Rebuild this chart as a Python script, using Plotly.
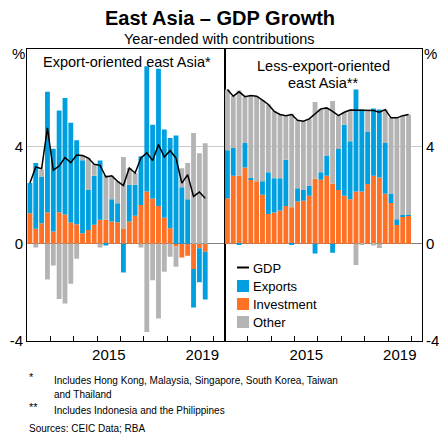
import plotly.graph_objects as go

# ---------------- data ----------------
quarters_left = ["2012Q1", "2012Q2", "2012Q3", "2012Q4", "2013Q1", "2013Q2", "2013Q3", "2013Q4",
                 "2014Q1", "2014Q2", "2014Q3", "2014Q4", "2015Q1", "2015Q2", "2015Q3", "2015Q4",
                 "2016Q1", "2016Q2", "2016Q3", "2016Q4", "2017Q1", "2017Q2", "2017Q3", "2017Q4",
                 "2018Q1", "2018Q2", "2018Q3", "2018Q4", "2019Q1", "2019Q2", "2019Q3"]
quarters_right = quarters_left + ["2019Q4"]

# Export-oriented east Asia
inv_left = [1.25, 0.61, 0.84, 1.28, 0.50, 1.29, 1.20, 0.87, 0.80, 0.43, 0.56, 0.78, 0.98, 0.98, 0.91, 0.88,
            0.60, 0.91, 1.15, 1.59, 2.14, 1.86, 1.55, 1.07, 0.63, -0.12, -0.57, -0.50, -1.04, -0.19, -0.33]
exp_left = [1.24, 2.70, 1.92, 4.96, 3.40, 4.18, 4.79, 4.10, 3.45, 3.00, 1.65, 2.01, 2.44, -0.08, 0.92, 0.78,
            -1.18, 1.51, 1.27, 2.00, 5.15, 3.03, 5.64, 3.62, 3.71, 4.45, 2.32, 1.83, -1.58, -1.40, -1.96]
oth_left = [0.00, -0.16, 0.28, -1.47, -0.90, -2.27, -2.46, -1.65, -0.62, 0.20, 1.31, 0.47, -0.16, 1.84, 0.96, 0.90,
            2.96, 0.69, 0.48, -0.16, -3.63, -1.50, -3.08, -1.15, -0.54, -0.83, 0.78, 1.48, 4.55, 3.72, 4.13]
gdp_left = [2.49, 3.15, 3.08, 4.76, 3.02, 3.19, 3.54, 3.33, 3.64, 3.62, 3.52, 3.26, 3.22, 2.74, 2.79, 2.56,
            2.39, 3.11, 2.90, 3.52, 3.73, 3.42, 4.07, 3.56, 3.82, 3.52, 2.49, 2.83, 1.94, 2.12, 1.87]

# Less-export-oriented east Asia
inv_right = [1.87, 2.79, 2.79, 3.13, 2.63, 2.56, 2.01, 1.22, 1.28, 1.36, 1.55, 1.50, 1.73, 1.76, 1.97, 2.67,
             2.63, 2.79, 2.46, 2.21, 1.97, 1.83, 2.14, 2.14, 2.45, 2.79, 2.72, 2.05, 1.67, 0.77, 1.11, 1.15]
exp_right = [1.97, 1.14, -0.05, 1.01, 0.07, 0.00, 0.55, 1.71, 1.41, 1.33, 1.90, -0.03, 0.55, 0.45, 0.41, -0.40,
             0.30, 0.83, -0.37, 1.68, 2.92, 2.38, 4.20, 3.37, 2.14, 2.76, 2.79, 2.09, 0.39, 0.23, 0.07, 0.03]
oth_right = [2.50, 2.13, 3.50, 1.90, 3.39, 3.50, 3.34, 2.79, 2.75, 2.62, 1.81, 3.84, 2.79, 2.82, 2.75, 3.15,
             2.61, 1.96, 3.40, 1.37, 0.51, 1.28, -0.88, -0.02, 0.90, -0.08, -0.18, 1.37, 3.12, 4.17, 4.08, 4.13]
gdp_right = [6.34, 6.06, 6.24, 6.04, 6.09, 6.06, 5.90, 5.72, 5.44, 5.31, 5.26, 5.31, 5.07, 5.03, 5.13, 5.35,
             5.54, 5.58, 5.44, 5.26, 5.40, 5.49, 5.49, 5.49, 5.49, 5.47, 5.40, 5.51, 5.17, 5.17, 5.26, 5.31]

year_ticks = [2013, 2014, 2015, 2016, 2017, 2018, 2019, 2020]
label_years = ["2015", "2019"]
y_ticks = [-4, 0, 4]

BLUE = "#00A0E0"
ORANGE = "#FF7125"
GREY = "#B4B4B4"
FONT = "Liberation Sans, Arial, sans-serif"

W, H = 439, 434
ML, MR, MT, MB = 27, 17, 49, 93
PW, PH = W - ML - MR, H - MT - MB


def qpos(q):
    return int(q[:4]) + (int(q[-1]) - 1) / 4 + 0.125


def px(x):
    return (x - ML) / PW


def py(y):
    return (H - MB - y) / PH


fig = go.Figure()

for quarters, inv, exp, oth, gdp, xa, ya in [
    (quarters_left, inv_left, exp_left, oth_left, gdp_left, "x", "y"),
    (quarters_right, inv_right, exp_right, oth_right, gdp_right, "x2", "y2"),
]:
    xs = [qpos(q) for q in quarters]
    for name, vals, col in [("Investment", inv, ORANGE), ("Exports", exp, BLUE), ("Other", oth, GREY)]:
        fig.add_trace(go.Bar(x=xs, y=vals, name=name, marker=dict(color=col, line=dict(width=0)),
                             xaxis=xa, yaxis=ya, showlegend=False))
    fig.add_trace(go.Scatter(x=xs, y=gdp, mode="lines", name="GDP", line=dict(color="black", width=1.5),
                             xaxis=xa, yaxis=ya, showlegend=False))

xcommon = dict(range=[2012, 2020.45], tickvals=[int(v) + 0.5 for v in label_years], ticktext=label_years,
               ticks="", showline=True, mirror=True, linecolor="black", linewidth=1, showgrid=False,
               zeroline=False, automargin=False, tickfont=dict(size=15, color="black", family=FONT),
               minor=dict(tickvals=year_ticks, ticks="inside", ticklen=5, tickcolor="black", tickwidth=1,
                          showgrid=False))
ycommon = dict(range=[-4, 8], tickvals=y_ticks, ticktext=[str(v) for v in y_ticks], ticks="",
               showline=True, mirror=True, linecolor="black", linewidth=1, showgrid=True,
               gridcolor="#C8C8C8", gridwidth=1, zeroline=True, zerolinecolor="#808080", zerolinewidth=1,
               automargin=False, tickfont=dict(size=15, color="black", family=FONT))

fig.update_layout(
    width=W, height=H, margin=dict(l=ML, r=MR, t=MT, b=MB, autoexpand=False),
    paper_bgcolor="white", plot_bgcolor="white",
    barmode="relative", bargap=0.17,
    font=dict(family=FONT, color="black"),
    xaxis=dict(domain=[0, 0.5], anchor="y", **xcommon),
    xaxis2=dict(domain=[0.5, 1], anchor="y2", **xcommon),
    yaxis=dict(anchor="x", side="left", **ycommon),
    yaxis2=dict(anchor="x2", side="right", **ycommon),
)

ann = []


def txt(x, y, s, size, xanchor="center", bold=False):
    ann.append(dict(x=px(x), y=py(y), xref="paper", yref="paper", text=("<b>%s</b>" % s) if bold else s,
                    showarrow=False, xanchor=xanchor, yanchor="middle",
                    font=dict(size=size, color="black", family=FONT)))


txt(219.5, 18, "East Asia – GDP Growth", 20, bold=True)
txt(219.5, 39, "Year-ended with contributions", 14.5)
txt(127, 62, "Export-oriented east Asia*", 14.5)
txt(323, 66, "Less-export-oriented", 14.5)
txt(323, 83, "east Asia**", 14.5)
txt(18, 54, "%", 15)
txt(431, 54, "%", 15)

# legend
leg_items = [("GDP", 268), ("Exports", 286), ("Investment", 304), ("Other", 322)]
for name, yy in leg_items:
    txt(251, yy, name, 13, xanchor="left")

shapes = [dict(type="line", xref="paper", yref="paper", x0=px(237), x1=px(249), y0=py(267.5), y1=py(267.5),
               line=dict(color="black", width=2))]
for col, yy in [(BLUE, 286), (ORANGE, 304), (GREY, 322)]:
    shapes.append(dict(type="rect", xref="paper", yref="paper", x0=px(237), x1=px(249), y0=py(yy - 6),
                       y1=py(yy + 6), fillcolor=col, line=dict(width=0)))

# footnotes
txt(27, 377, "*", 11, xanchor="left")
txt(52, 380, "Includes Hong Kong, Malaysia, Singapore, South Korea, Taiwan", 10, xanchor="left")
txt(52, 394, "and Thailand", 10, xanchor="left")
txt(27, 407, "**", 11, xanchor="left")
txt(52, 410, "Includes Indonesia and the Philippines", 10, xanchor="left")
txt(27, 428, "Sources: CEIC Data; RBA", 10, xanchor="left")

fig.update_layout(annotations=ann, shapes=shapes)
fig.write_html("out.html", config={"displayModeBar": False},
               post_script="document.body.style.margin='0';document.body.style.padding='0';"
                           "document.documentElement.style.overflow='hidden';")
